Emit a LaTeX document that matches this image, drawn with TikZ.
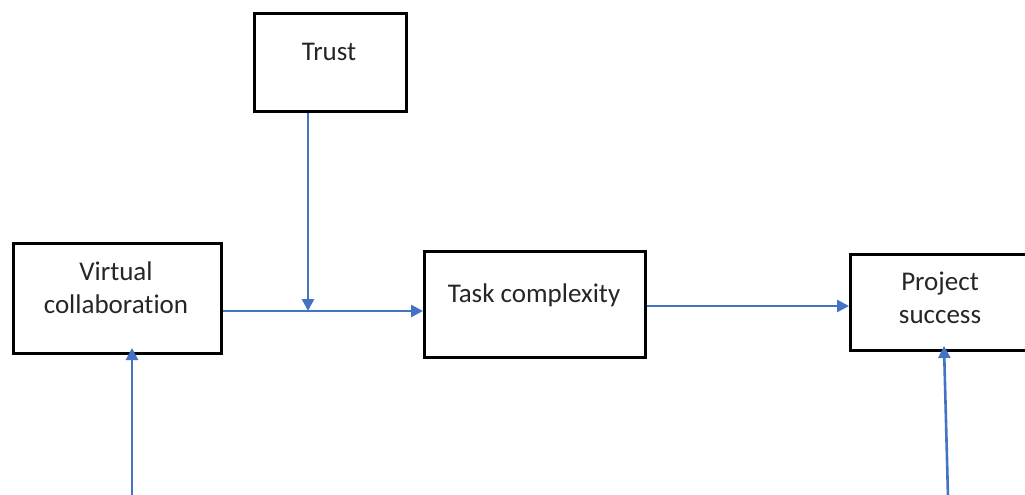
\documentclass[tikz,border=0pt]{standalone}
\usepackage{fontspec}
\setmainfont[Ligatures={NoCommon}]{Carlito}
\usetikzlibrary{arrows.meta}
\definecolor{linkblue}{RGB}{68,114,196}
\definecolor{inkgray}{RGB}{38,38,38}
\begin{document}
\begin{tikzpicture}[x=1pt,y=-1pt,
  box/.style={draw=black, line width=3pt, fill=white, inner sep=0pt, anchor=north west},
  lbl/.style={font=\fontsize{27}{33}\selectfont, text=inkgray, inner sep=0pt, anchor=base},
  link/.style={draw=linkblue, line width=2.6pt, -{Triangle[length=12pt,width=12pt]}}
]
\useasboundingbox (0,0) rectangle (1025,495);
\fill[white] (0,0) rectangle (1025,495);

% boxes
\node[box, minimum width=152pt, minimum height=98pt]  (trust) at (253,12)  {};
\node[box, minimum width=208pt, minimum height=110pt] (vc)    at (12,242)  {};
\node[box, minimum width=221pt, minimum height=106pt] (tc)    at (423,250) {};
\node[box, minimum width=180pt, minimum height=96pt]  (ps)    at (849,253) {};

% box texts
\node[lbl] (trustA) at (329,60)  {Trust};
\node[lbl] (vcA)    at (116,280) {Virtual};
\node[lbl] (vcB)    at (116,313) {collaboration};
\node[lbl] (tcA)    at (534,302) {Task complexity};
\node[lbl] (psA)    at (940,290) {Project};
\node[lbl] (psB)    at (940,323) {success};

% connectors
\coordinate (join)  at (308,311);
\coordinate (vcin)  at (132,497);
\coordinate (vctop) at (132,348);
\coordinate (psin)  at (948,497);
\coordinate (pstop) at (944,346);

\draw[link] (vc.east |- join) -- (tc.west |- join);
\draw[link] (trust.south -| join) -- (join);
\draw[link] (tc.east |- 0,306) -- (ps.west |- 0,306);
\draw[link] (vcin) -- (vctop);
\draw[link] (psin) -- (pstop);
\end{tikzpicture}
\end{document}
